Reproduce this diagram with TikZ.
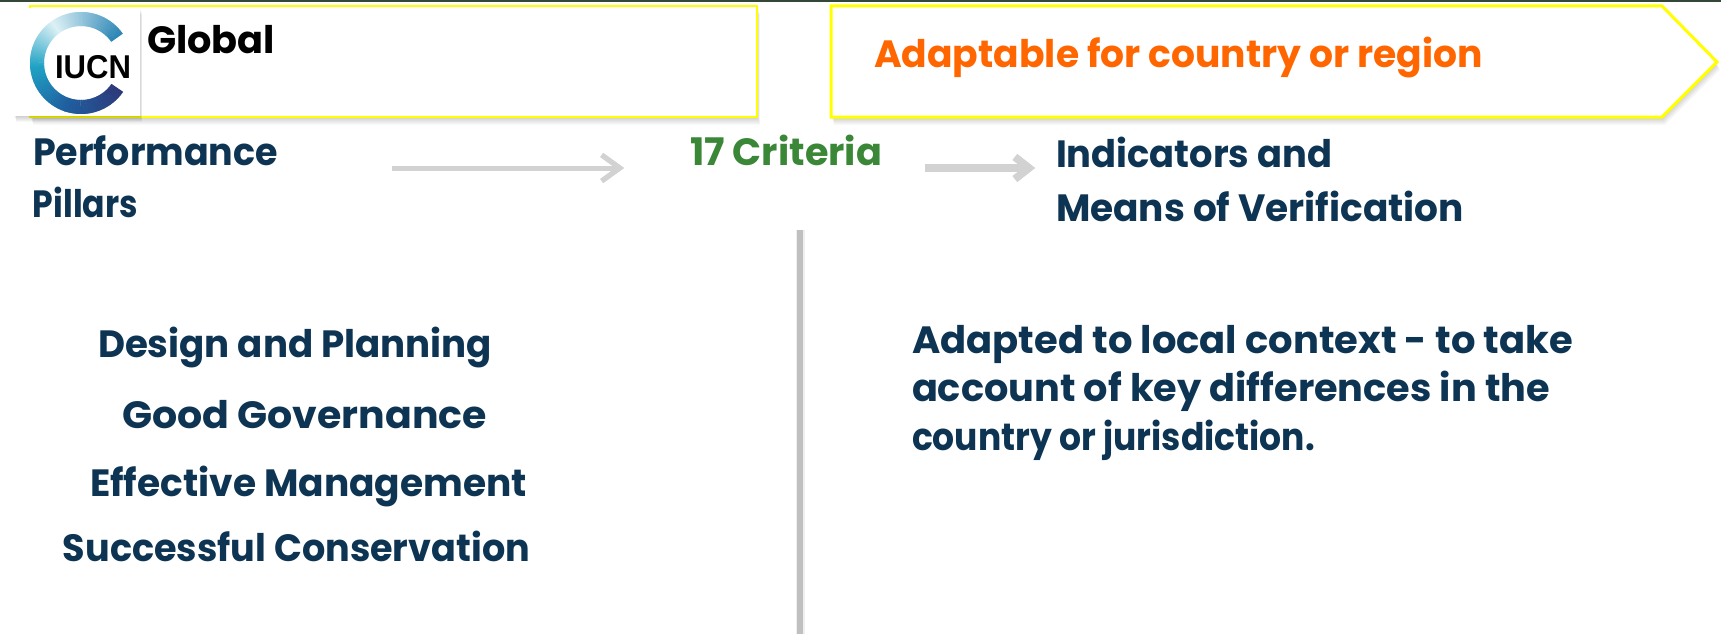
\documentclass[tikz,border=0pt]{standalone}
\usepackage{fontspec}
\setmainfont{Poppins}
\newfontfamily\logofont{Liberation Sans}
\usepackage{graphicx}
\usetikzlibrary{arrows.meta}
\definecolor{navy}{HTML}{0D3452}
\definecolor{greenT}{HTML}{3A8737}
\definecolor{orangeT}{HTML}{FF6600}
\definecolor{yel}{HTML}{FFFF00}
\definecolor{topline}{HTML}{34483A}
\definecolor{arrgray}{HTML}{D2D2D2}
\definecolor{arrshadow}{HTML}{A0A0A0}
\definecolor{vgray}{HTML}{C0C0C0}
\definecolor{ringA}{HTML}{2A85B5}
\definecolor{ringB}{HTML}{DDF1F6}
\definecolor{ringC}{HTML}{1EA2C4}
\definecolor{ringD}{HTML}{1F5FA0}
\definecolor{ringE}{HTML}{2C3A7A}
\newlength\fitlen
\newcommand\fitto[2]{\settowidth\fitlen{#2}\pgfmathsetmacro\fitsc{#1/\fitlen}\scalebox{\fitsc}[1]{#2}}
\newcommand\mainfnt{\bfseries\fontsize{38}{46}\selectfont}
\newcommand\ringseg[4]{% start, end, colfrom, colto
  \foreach \a in {#1,...,#2}{%
    \pgfmathsetmacro\p{100*(\a-#1)/(#2-#1+0.001)}%
    \pgfmathsetmacro\b{\a+1.6}%
    \fill[#4!\p!#3] (\a:37) -- (\a:51) arc[start angle=\a, end angle=\b, radius=51] -- (\b:37) arc[start angle=\b, end angle=\a, radius=37] -- cycle;
  }}
\tikzset{
  txt/.style={inner sep=0pt, outer sep=0pt, font=\mainfnt, text=navy},
  boxline/.style={draw=yel, line width=2.5pt, fill=white},
  arrowone/.style={line width=5pt, draw=#1, -{Straight Barb[length=18pt,width=26pt]}},
  arrowtwo/.style={line width=7.5pt, draw=#1, -{Straight Barb[length=14pt,width=22pt]}},
}
\begin{document}
\begin{tikzpicture}[x=1pt,y=-1pt]
\useasboundingbox (0,0) rectangle (1721,634);
\fill[white] (0,0) rectangle (1721,634);
\fill[topline] (0,0) rectangle (1721,1.6);
% shadows
\foreach \i in {1,...,8}{
  \begin{scope}[shift={(0.4*\i,1.0*\i)}]
    \fill[black,opacity=0.022] (30,6) rectangle (757,117);
    \fill[black,opacity=0.022] (831,6) -- (1662,6) -- (1717,62) -- (1662,117) -- (831,117) -- cycle;
  \end{scope}}
% left box
\path[boxline] (30,6) rectangle (757,117);
% right box
\path[boxline, line width=3pt, line join=miter] (831,6) -- (1662,6) -- (1717,62) -- (1662,117) -- (831,117) -- cycle;
% logo
\foreach \i in {1,...,6}{
  \fill[black,opacity=0.03] (14+0.4*\i,8+\i) rectangle (140+0.4*\i,116+\i);}
\fill[white] (14,8) rectangle (140,116);
\begin{scope}[shift={(81,63)}, yscale=-1]
  \ringseg{35}{125}{ringA}{ringB}
  \ringseg{125}{185}{ringB}{ringC}
  \ringseg{185}{250}{ringC}{ringD}
  \ringseg{250}{324}{ringD}{ringE}
\end{scope}
\node[inner sep=0pt, outer sep=0pt, anchor=base west, font=\logofont\bfseries\fontsize{33}{33}\selectfont] (iucn) at (55,78) {\fitto{76}{IUCN}};
% texts
\node[txt, anchor=base west, text=black] (global) at (147,53) {\fitto{128}{Global}};
\node[txt, anchor=base west, text=orangeT] (adapt) at (874,67) {\fitto{609}{Adaptable for country or region}};
\node[txt, anchor=base west] (perf1) at (33,165) {\fitto{245}{Performance}};
\node[txt, anchor=base west] (perf2) at (33,217) {\fitto{105}{Pillars}};
\node[txt, anchor=base west, text=greenT] (crit) at (690,165) {\fitto{192}{17 Criteria}};
\node[txt, anchor=base west] (ind1) at (1056,167) {\fitto{276}{Indicators and}};
\node[txt, anchor=base west] (ind2) at (1056,221) {\fitto{408}{Means of Verification}};
\node[txt, anchor=base] (p1) at (295,357) {\fitto{394}{Design and Planning}};
\node[txt, anchor=base] (p2) at (304.5,428) {\fitto{365}{Good Governance}};
\node[txt, anchor=base] (p3) at (308.5,496) {\fitto{437}{Effective Management}};
\node[txt, anchor=base] (p4) at (296.5,561) {\fitto{467}{Successful Conservation}};
\node[txt, anchor=base west] (r1) at (912,353) {\fitto{661}{Adapted to local context - to take}};
\node[txt, anchor=base west] (r2) at (912,401) {\fitto{638}{account of key differences in the}};
\node[txt, anchor=base west] (r3) at (912,450) {\fitto{403}{country or jurisdiction.}};
% arrows
\coordinate (a1s) at (392,168);
\coordinate (a1e) at (624,168);
\coordinate (a2s) at (925,168);
\coordinate (a2e) at (1035,168);
\begin{scope}[shift={(1,2.5)}, opacity=0.45]
  \draw[arrowone=arrshadow] (a1s) -- (a1e);
  \draw[arrowtwo=arrshadow] (a2s) -- (a2e);
\end{scope}
\draw[arrowone=arrgray] (a1s) -- (a1e);
\draw[arrowtwo=arrgray] (a2s) -- (a2e);
% vertical divider
\coordinate (v1) at (800,230);
\coordinate (v2) at (800,634);
\draw[line width=9pt, draw=vgray, opacity=0.25] (v1) -- (v2);
\draw[line width=6pt, draw=vgray] (v1) -- (v2);
\end{tikzpicture}
\end{document}
